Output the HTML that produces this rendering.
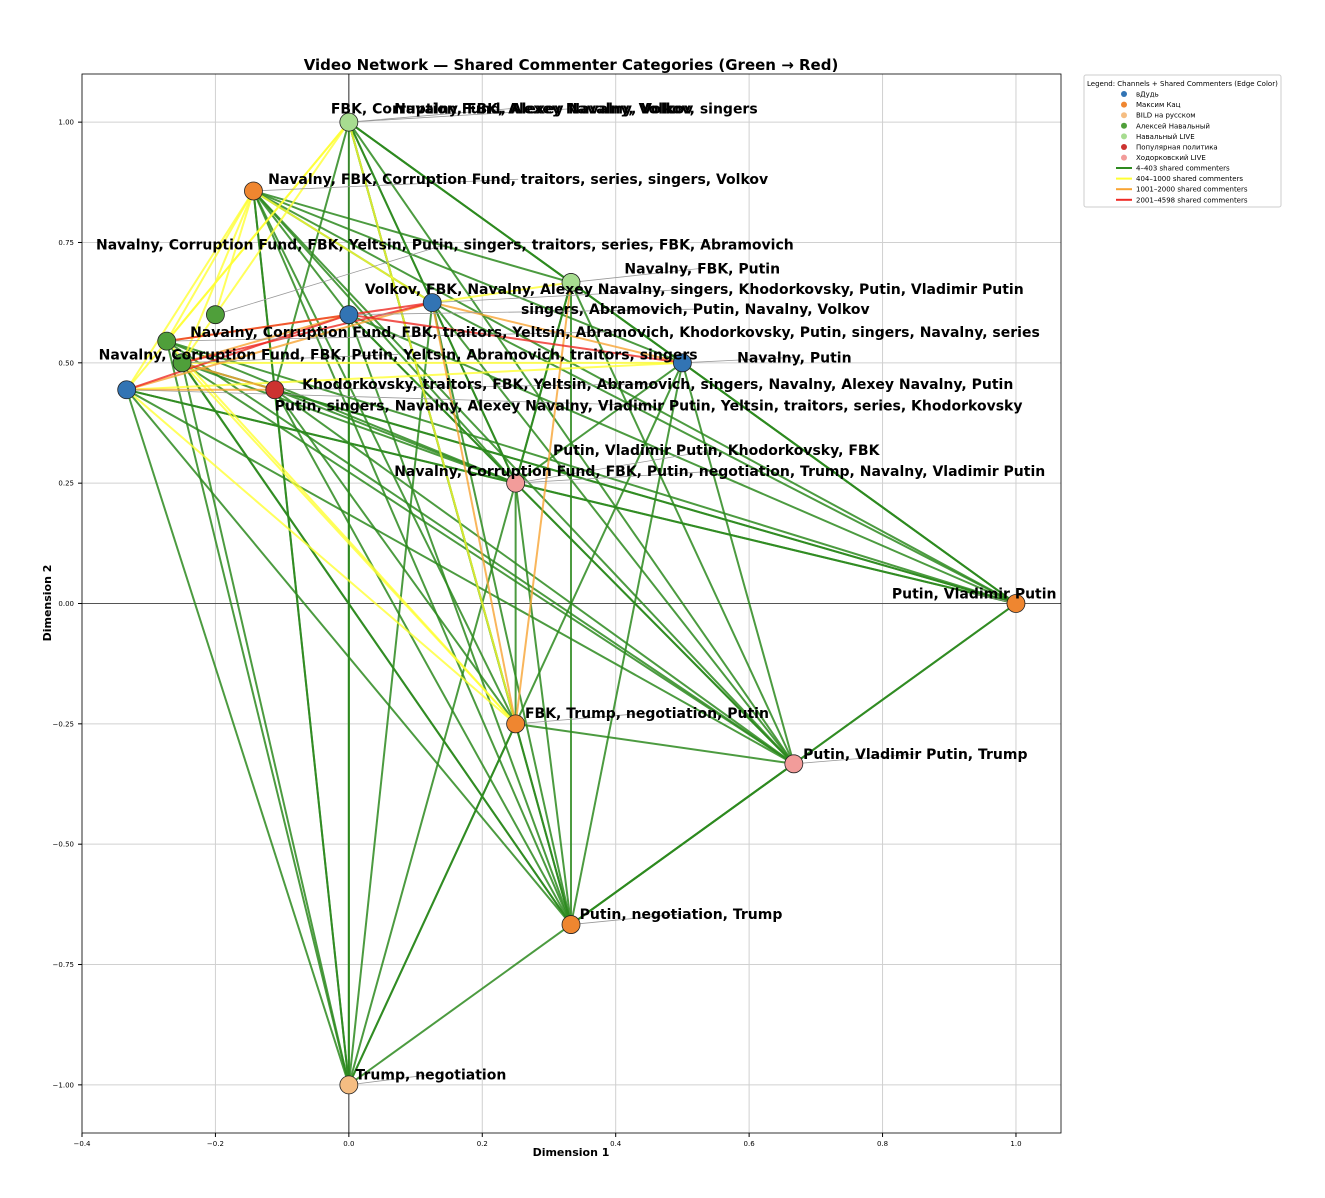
<!DOCTYPE html>
<html><head><meta charset="utf-8"><style>
body{margin:0;background:#fff}
svg text{font-family:"DejaVu Sans","Liberation Sans",sans-serif}
</style></head><body>
<svg id="chart" width="1325" height="1193" xmlns="http://www.w3.org/2000/svg">
<rect width="1325" height="1193" fill="#fff"/>
<g id="grid"></g><g id="edges"></g><g id="leaders"></g><g id="nodes"></g><g id="labels"></g><g id="axes"></g>
<text x="571" y="70" text-anchor="middle" font-size="15" font-weight="bold">Video Network — Shared Commenter Categories (Green → Red)</text>
<text x="571" y="1156" text-anchor="middle" font-size="11" font-weight="bold">Dimension 1</text>
<text transform="translate(51,603) rotate(-90)" text-anchor="middle" font-size="11" font-weight="bold">Dimension 2</text>
<g id="legend"></g>
</svg>
<script>
const nodeX=[0,-0.143,-0.2,0,0.125,0.333,-0.273,-0.25,0.5,-0.333,-0.111,0.25,1,0.25,0.667,0.333,0];
const nodeY=[1,0.857,0.6,0.6,0.625,0.667,0.545,0.5,0.5,0.444,0.444,0.25,0,-0.25,-0.333,-0.667,-1];
const nodeCat=[4,1,3,0,0,4,3,3,0,0,5,6,1,1,6,1,2];
const labelText=[
["FBK, Corruption Fund, Alexey Navalny, Volkov",-0.027,1.018],
["Navalny, FBK, Alexey Navalny, Volkov, singers",0.068,1.018],
["Navalny, FBK, Corruption Fund, traitors, series, singers, Volkov",-0.121,0.871],
["Navalny, Corruption Fund, FBK, Yeltsin, Putin, singers, traitors, series, FBK, Abramovich",-0.379,0.735],
["singers, Abramovich, Putin, Navalny, Volkov",0.258,0.601],
["Volkov, FBK, Navalny, Alexey Navalny, singers, Khodorkovsky, Putin, Vladimir Putin",0.024,0.643],
["Navalny, FBK, Putin",0.413,0.686],
["Navalny, Corruption Fund, FBK, traitors, Yeltsin, Abramovich, Khodorkovsky, Putin, singers, Navalny, series",-0.238,0.554],
["Navalny, Corruption Fund, FBK, Putin, Yeltsin, Abramovich, traitors, singers",-0.375,0.507],
["Navalny, Putin",0.582,0.501],
["Khodorkovsky, traitors, FBK, Yeltsin, Abramovich, singers, Navalny, Alexey Navalny, Putin",-0.07,0.446],
["Putin, singers, Navalny, Alexey Navalny, Vladimir Putin, Yeltsin, traitors, series, Khodorkovsky",-0.111,0.401],
["Putin, Vladimir Putin, Khodorkovsky, FBK",0.306,0.309],
["Navalny, Corruption Fund, FBK, Putin, negotiation, Trump, Navalny, Vladimir Putin",0.068,0.265],
["Putin, Vladimir Putin",0.814,0.01],
["FBK, Trump, negotiation, Putin",0.264,-0.238],
["Putin, Vladimir Putin, Trump",0.681,-0.323],
["Putin, negotiation, Trump",0.346,-0.655],
["Trump, negotiation",0.01,-0.989]];
const labelNode=[0,0,1,2,3,4,5,6,7,8,10,9,11,11,12,13,14,15,16];
const edgeSrc=[0,0,0,0,0,0,0,0,0,0, 1,1,1,1,1,1,1,1,1,1,1, 3,3,3,3,3, 4,4,4,4,4, 5,5,5,5,5, 6,6,6,6,6, 7,7,7,7,7, 8,8,8,8,8, 9,9,9,9,9, 10,10,10,10,10,10, 11,11,11,11, 12,12, 13,13,13, 14,16,
 0,0,0,1,1,1,1,0,9,7,6,3,4,9,7,1,
 9,7,4,5,4,9,7,
 9,6,3,7];
const edgeDst=[16,11,13,14,15,12,8,4,10,5, 3,4,5,8,10,11,12,13,14,15,16, 11,14,15,16,12, 11,14,15,16,12, 11,14,15,16,12, 11,14,15,12,16, 11,14,15,16,12, 11,12,14,15,16, 11,12,14,15,16, 11,12,14,15,16,13, 13,14,15,12, 14,15, 14,15,16, 15,14,
 6,7,9,6,7,9,2,13,13,13,13,6,5,8,8,4,
 4,3,8,13,13,10,10,
 3,4,8,4];
const edgeCount=[200,150,120,180,160,220,140,130,110,170, 150,120,160,140,130,190,200,180,160,140,120, 150,130,140,110,170, 180,160,150,120,140, 170,150,140,130,190, 160,120,140,180,110, 150,170,160,130,140, 190,210,170,160,130, 200,220,180,150,140, 170,160,190,150,140,120, 180,170,160,150, 200,210, 160,150,140, 170,180,
 700,650,600,800,750,700,550,600,900,850,800,700,650,900,850,600,
 1500,1300,1200,1100,1400,1600,1200,
 3000,2800,2500,2200];
const catColors=["#3274b4","#ef8630","#f5bd82","#4f9f3a","#a7dc90","#cc3330","#f29c9a"];
const catNames=["вДудь","Максим Кац","BILD на русском","Алексей Навальный","Навальный LIVE","Популярная политика","Ходорковский LIVE"];
const binLabels=["4–403 shared commenters","404–1000 shared commenters","1001–2000 shared commenters","2001–4598 shared commenters"];
const binMax=[403,1000,2000,4598];
const binColors=["#2d8a1f","#ffff33","#f8a433","#ee2a24"];
const xTicks=[-0.4,-0.2,0,0.2,0.4,0.6,0.8,1.0];
const yTicks=[-1,-0.75,-0.5,-0.25,0,0.25,0.5,0.75,1];

const X0=82,X1=1061,Y0=74,Y1=1133;
const xmin=-0.4,xmax=1.0675,ymin=-1.1,ymax=1.1;
const sx=v=>X0+(v-xmin)/(xmax-xmin)*(X1-X0);
const sy=v=>Y1-(v-ymin)/(ymax-ymin)*(Y1-Y0);
const NS="http://www.w3.org/2000/svg";
function mk(tag,attrs,parent){const e=document.createElementNS(NS,tag);for(const k in attrs)e.setAttribute(k,attrs[k]);parent.appendChild(e);return e;}
const G=id=>document.getElementById(id);
const fmt=v=>(v<0?"−":"")+Math.abs(v).toFixed(1);
const fmt2=v=>(v<0?"−":"")+Math.abs(v).toFixed(2);

xTicks.forEach(t=>{
 const l=mk("line",{x1:sx(t),x2:sx(t),y1:Y0,y2:Y1,stroke:"#d0d0d0","stroke-width":1},G("grid"));
 
 
 mk("line",{x1:sx(t),x2:sx(t),y1:Y1,y2:Y1+4,stroke:"#000"},G("axes"));
 const tx=mk("text",{x:sx(t),y:Y1+13,"text-anchor":"middle","font-size":7},G("axes"));
 tx.textContent=fmt(t);
 
 
});
yTicks.forEach(t=>{
 const l=mk("line",{x1:X0,x2:X1,y1:sy(t),y2:sy(t),stroke:"#d0d0d0","stroke-width":1},G("grid"));
 
 
 mk("line",{x1:X0-4,x2:X0,y1:sy(t),y2:sy(t),stroke:"#000"},G("axes"));
 const tx=mk("text",{x:X0-8,y:sy(t)+2.5,"text-anchor":"end","font-size":7},G("axes"));
 tx.textContent=fmt2(t);
 
 
});
mk("line",{x1:X0,x2:X1,y1:sy(0),y2:sy(0),stroke:"#555","stroke-width":1},G("grid"));
mk("line",{x1:sx(0),x2:sx(0),y1:Y0,y2:Y1,stroke:"#333","stroke-width":1},G("grid"));
const frame=mk("rect",{x:X0,y:Y0,width:X1-X0,height:Y1-Y0,fill:"none",stroke:"#000","stroke-width":0.8},G("axes"));



function binOf(c){for(let i=0;i<binMax.length;i++)if(c<=binMax[i])return i;return binMax.length-1;}
const order=edgeCount.map((c,i)=>i).sort((a,b)=>edgeCount[a]-edgeCount[b]);
order.forEach(i=>{
 const a=edgeSrc[i],b=edgeDst[i],bin=binOf(edgeCount[i]);
 const e=mk("line",{x1:sx(nodeX[a]),y1:sy(nodeY[a]),x2:sx(nodeX[b]),y2:sy(nodeY[b]),stroke:binColors[bin],"stroke-width":2,"stroke-opacity":bin==0?0.85:0.8},G("edges"));
 
 
});
labelText.forEach((L,i)=>{
 const n=labelNode[i];
 const t=mk("text",{x:sx(L[1]),y:sy(L[2]),"font-size":14,"font-weight":"bold",fill:"#000"},G("labels"));
 t.textContent=L[0];
 
 
 let w=0;try{w=t.getComputedTextLength();}catch(e){}
 mk("line",{x1:sx(nodeX[n]),y1:sy(nodeY[n]),x2:sx(L[1])+w/2,y2:sy(L[2])-5,stroke:"#999","stroke-width":0.8},G("leaders"));
});
nodeX.forEach((x,i)=>{
 const c=mk("circle",{cx:sx(x),cy:sy(nodeY[i]),r:9,fill:catColors[nodeCat[i]],stroke:"#222","stroke-width":0.8},G("nodes"));
 
 
});
const lg=G("legend");
mk("rect",{x:1084,y:75,width:197,height:132,fill:"#fff",stroke:"#ccc",rx:2},lg);
const lt=mk("text",{x:1087,y:86,"font-size":7},lg);lt.textContent="Legend: Channels + Shared Commenters (Edge Color)";
catNames.forEach((n,i)=>{
 const y=94+i*10.6;
 const c=mk("circle",{cx:1124,cy:y,r:3,fill:catColors[i]},lg);
 
 
 const t=mk("text",{x:1136,y:y+2.5,"font-size":7},lg);t.textContent=n;
 
 
});
binLabels.forEach((n,i)=>{
 const y=168+i*10.6;
 mk("line",{x1:1116,x2:1132,y1:y,y2:y,stroke:binColors[i],"stroke-width":2},lg);
 const t=mk("text",{x:1136,y:y+2.5,"font-size":7},lg);t.textContent=n;
 
 
});
</script>
</body></html>
